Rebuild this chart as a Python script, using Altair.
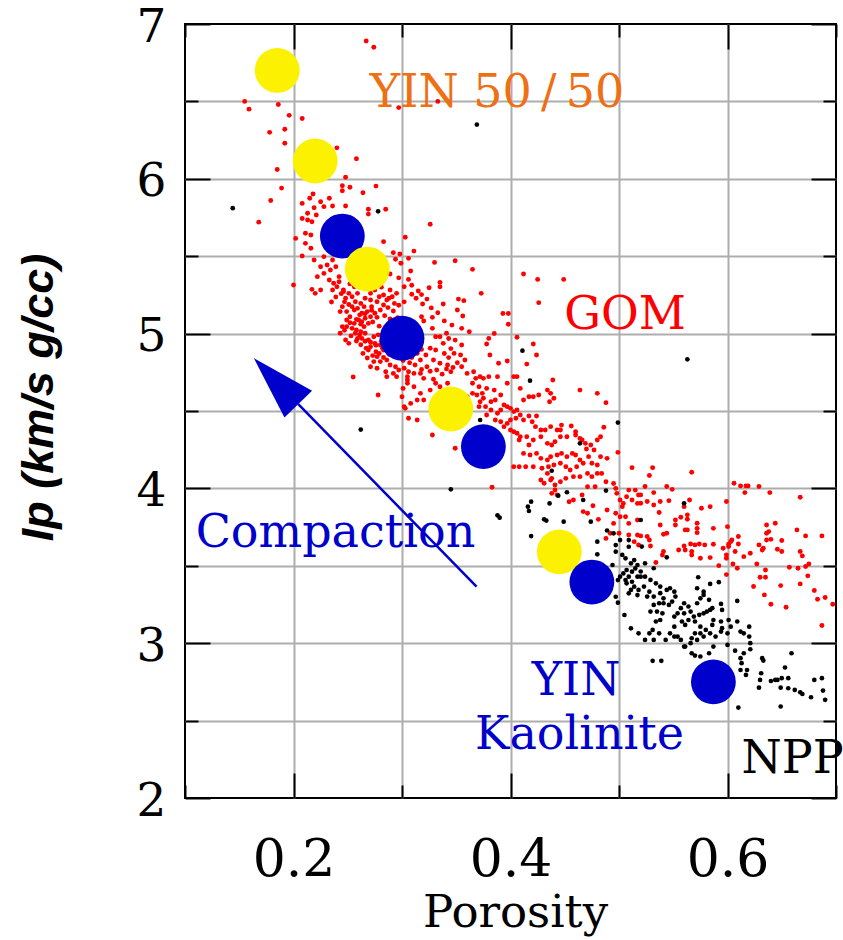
import altair as alt
import pandas as pd

# ---------------- data ----------------
# Gulf of Mexico samples (red): (porosity, Ip)
GOM = [
(0.267,6.89),(0.274,6.85),(0.155,6.50),(0.159,6.45),(0.186,6.48),(0.196,6.41),(0.208,6.39),(0.178,6.30),
(0.192,6.32),(0.192,6.23),(0.185,6.06),(0.189,5.94),(0.179,5.86),(0.168,5.72),(0.297,6.46),(0.333,6.50),
(0.258,6.13),(0.248,6.01),(0.240,6.20),(0.373,5.26),(0.393,5.13),(0.398,5.13),(0.412,5.385),(0.425,5.35),
(0.449,5.35),(0.426,5.20),(0.398,5.06),(0.488,4.554),(0.486,4.395),(0.489,4.194),(0.499,4.233),(0.512,4.134),
(0.484,4.097),(0.278,4.603),(0.255,4.72),
(0.245,5.955),(0.252,5.945),(0.245,5.923),(0.276,5.953),(0.264,5.910),(0.218,5.902),(0.215,5.874),(0.208,5.841),
(0.225,5.852),(0.233,5.874),(0.228,5.820),(0.236,5.824),(0.248,5.824),(0.219,5.813),(0.213,5.777),(0.221,5.766),
(0.208,5.744),(0.213,5.734),(0.217,5.723),(0.269,5.803),(0.269,5.772),(0.285,5.803),(0.326,5.706),(0.211,5.648),
(0.216,5.637),(0.202,5.615),(0.211,5.583),(0.216,5.551),(0.208,5.501),(0.303,5.622),(0.283,5.594),(0.311,5.533),
(0.292,5.523),(0.298,5.514),(0.306,5.486),(0.294,5.480),(0.299,5.454),(0.330,5.460),(0.349,5.471),(0.365,5.415),
(0.308,5.404),(0.306,5.350),(0.302,5.303),(0.315,5.275),(0.335,5.331),(0.335,5.303),(0.309,5.254),(0.323,5.223),
(0.338,5.191),(0.352,5.223),(0.357,5.213),(0.351,5.152),(0.356,5.114),(0.318,5.109),(0.328,5.105),(0.320,5.081),
(0.328,5.034),(0.331,4.980),(0.335,4.980),(0.338,4.937),(0.355,5.034),(0.362,5.012),(0.355,4.926),(0.348,4.872),
(0.354,4.862),(0.358,4.829),(0.355,4.786),(0.342,4.797),(0.335,4.808),(0.329,4.829),(0.322,4.862),(0.326,4.905),
(0.331,4.894),(0.317,4.829),(0.323,4.786),(0.317,4.743),(0.332,4.765),(0.345,4.754),(0.360,4.743),(0.366,4.754),
(0.372,4.722),(0.320,4.711),(0.329,4.705),(0.368,4.711),
(0.231,5.443),(0.234,5.411),(0.239,5.432),(0.228,5.389),(0.222,5.368),(0.233,5.346),(0.237,5.325),(0.242,5.368),
(0.240,5.303),(0.246,5.282),(0.251,5.260),(0.254,5.238),(0.257,5.206),(0.248,5.228),(0.245,5.174),(0.243,5.142),
(0.249,5.142),(0.254,5.174),(0.259,5.163),(0.262,5.195),(0.265,5.174),(0.263,5.131),(0.268,5.142),(0.266,5.099),
(0.271,5.109),(0.275,5.131),(0.280,5.152),(0.283,5.185),(0.277,5.206),(0.286,5.217),(0.291,5.238),(0.295,5.260),
(0.289,5.282),(0.288,5.228),(0.283,5.249),(0.279,5.238),(0.271,5.217),(0.272,5.174),(0.269,5.066),(0.265,5.045),
(0.262,5.012),(0.257,5.002),(0.254,5.034),(0.249,5.045),(0.245,5.045),(0.243,5.002),(0.248,4.959),(0.251,4.937),
(0.259,4.969),(0.263,4.969),(0.266,5.002),(0.269,4.959),(0.274,4.980),(0.271,4.915),(0.269,4.894),(0.276,4.883),
(0.277,4.851),(0.280,4.819),(0.274,4.819),(0.271,4.786),(0.277,4.776),(0.285,4.754),(0.286,4.722),(0.292,4.743),
(0.297,4.765),(0.302,4.776),(0.306,4.754),(0.311,4.743),(0.295,4.722),(0.305,4.722),(0.283,4.894),(0.280,4.926),
(0.275,4.937),(0.286,4.829),(0.289,4.797),(0.294,4.786),(0.256,5.303),(0.259,5.260),(0.266,5.228),(0.271,5.260),
(0.275,5.282),(0.260,5.088),(0.256,5.066),(0.263,5.077),(0.252,5.109),(0.249,5.088),(0.246,5.271),(0.242,5.335),
(0.236,5.282),(0.225,5.282),(0.220,5.260),(0.217,5.286),(0.200,5.314),(0.219,5.475),(0.228,5.497),(0.236,5.475),
(0.225,5.432),
(0.247,5.205),(0.251,5.188),(0.256,5.152),(0.261,5.121),(0.258,5.092),(0.252,5.070),(0.247,5.022),(0.253,4.985),
(0.258,4.952),(0.262,4.928),(0.267,4.905),(0.264,4.872),(0.268,4.842),(0.273,4.858),(0.279,4.871),(0.283,4.846),
(0.288,4.866),(0.292,4.889),(0.287,4.905),(0.281,4.951),(0.278,4.992),(0.284,5.021),(0.279,5.048),(0.273,5.075),
(0.277,5.105),(0.284,5.116),(0.289,5.094),(0.293,5.061),(0.287,5.041),(0.291,5.011),(0.296,4.985),(0.294,4.948),
(0.298,4.922),(0.302,4.903),(0.296,4.853),(0.301,4.826),(0.307,4.812),(0.312,4.797),(0.309,4.846),(0.314,4.872),
(0.318,4.898),(0.313,4.921),(0.308,4.951),(0.303,5.003),(0.299,5.043),(0.296,5.102),(0.292,5.146),(0.297,5.183),
(0.302,5.205),(0.293,5.195),(0.287,5.168),(0.272,5.151),(0.266,5.128),(0.262,5.061),(0.258,5.023),(0.261,4.991),
(0.266,4.951),(0.271,4.944),(0.276,4.924),(0.282,4.905),(0.318,4.768),(0.326,4.757),(0.337,4.738),(0.341,4.772),
(0.347,4.781),(0.351,4.812),(0.343,4.845),(0.339,4.871),(0.345,4.903),(0.349,4.958),(0.343,4.968),(0.341,5.002),
(0.346,5.055),(0.339,5.082),(0.333,5.135),(0.327,5.166),(0.319,5.191),(0.313,5.228),(0.318,5.252),(0.325,5.296),
(0.244,5.258),(0.239,5.236),(0.235,5.204),(0.252,5.321),(0.262,5.306),(0.281,5.300),(0.309,5.312),(0.297,5.360),
(0.289,5.385),(0.282,5.355),
(0.342,4.679),(0.335,4.657),(0.305,4.700),(0.311,4.657),(0.317,4.614),(0.326,4.635),(0.320,4.571),(0.314,4.571),
(0.308,4.549),(0.303,4.517),(0.305,4.679),(0.301,4.646),(0.331,4.679),
(0.380,4.969),(0.385,5.001),(0.378,4.933),(0.381,4.862),(0.389,4.808),(0.397,4.823),(0.406,4.976),(0.421,4.933),
(0.424,4.862),(0.415,4.803),(0.406,4.722),(0.397,4.679),(0.403,4.722),(0.388,4.722),(0.380,4.722),(0.375,4.711),
(0.365,4.679),(0.371,4.657),(0.374,4.614),(0.378,4.646),(0.385,4.635),(0.391,4.603),(0.386,4.571),(0.382,4.560),
(0.375,4.582),(0.372,4.560),(0.369,4.603),(0.365,4.614),(0.360,4.592),(0.371,4.528),(0.377,4.528),(0.382,4.506),
(0.388,4.485),(0.378,4.474),(0.391,4.506),(0.394,4.539),(0.397,4.528),(0.400,4.517),(0.403,4.496),(0.406,4.506),
(0.409,4.474),(0.405,4.453),(0.400,4.442),(0.397,4.420),(0.394,4.399),(0.391,4.431),(0.386,4.442),(0.409,4.646),
(0.412,4.571),(0.417,4.592),(0.421,4.592),(0.426,4.603),(0.434,4.635),(0.437,4.614),(0.439,4.700),(0.440,4.582),
(0.436,4.560),(0.464,4.635),(0.480,4.614),
(0.412,4.442),(0.417,4.468),(0.420,4.431),(0.424,4.468),(0.423,4.399),(0.428,4.377),(0.432,4.377),(0.437,4.399),
(0.443,4.377),(0.447,4.409),(0.446,4.377),(0.456,4.403),(0.446,4.334),(0.452,4.334),(0.441,4.302),(0.438,4.280),
(0.434,4.291),(0.428,4.334),(0.421,4.313),(0.415,4.334),(0.409,4.334),(0.406,4.356),(0.403,4.366),(0.400,4.377),
(0.408,4.313),(0.417,4.280),(0.412,4.226),(0.418,4.216),(0.424,4.226),(0.428,4.194),(0.434,4.183),(0.437,4.205),
(0.443,4.216),(0.447,4.226),(0.452,4.205),(0.457,4.226),(0.460,4.216),(0.464,4.183),(0.467,4.162),(0.461,4.140),
(0.455,4.119),(0.451,4.140),(0.446,4.162),(0.440,4.151),(0.435,4.140),(0.429,4.130),(0.421,4.140),(0.414,4.140),
(0.408,4.140),(0.403,4.140),(0.434,4.097),(0.438,4.065),(0.441,4.022),(0.446,4.043),(0.451,4.065),(0.458,4.076),
(0.464,4.076),(0.471,4.097),(0.475,4.076),(0.480,4.097),(0.480,4.151),(0.475,4.162),(0.472,4.205),(0.477,4.248),
(0.474,4.280),(0.469,4.291),(0.464,4.323),(0.460,4.345),(0.460,4.366),(0.466,4.313),(0.470,4.255),(0.480,4.313),
(0.483,4.334),(0.483,4.205),(0.478,4.011),(0.471,4.011),(0.466,3.957),(0.458,3.925),(0.454,3.914),(0.443,3.957),
(0.441,3.990),(0.438,3.968),(0.437,4.054),(0.431,4.033),(0.428,4.054),(0.476,3.888),(0.467,3.850),(0.471,3.839),
(0.383,4.007),(0.349,4.259),(0.328,4.345),(0.306,4.453),(0.314,4.442),(0.300,4.592),(0.302,4.528),
(0.489,3.860),(0.488,4.043),(0.495,4.032),(0.497,4.000),(0.498,3.968),(0.501,3.925),(0.503,3.882),(0.497,3.839),
(0.501,3.817),(0.504,3.903),(0.507,3.946),(0.509,3.989),(0.512,3.925),(0.515,3.989),(0.518,3.957),(0.517,3.903),
(0.517,3.796),(0.509,3.774),(0.506,3.817),(0.500,3.710),(0.492,3.710),(0.488,3.677),(0.509,3.699),(0.514,3.656),
(0.517,3.699),(0.518,3.634),(0.495,3.774),(0.481,3.800),
(0.531,4.134),(0.528,4.083),(0.567,4.104),(0.524,4.012),(0.544,4.012),(0.549,3.994),(0.532,3.973),(0.520,3.958),
(0.520,3.904),(0.526,3.915),(0.532,3.893),(0.538,3.915),(0.546,3.921),(0.560,3.882),(0.565,3.925),(0.576,3.872),
(0.584,3.882),(0.599,3.915),(0.606,4.033),(0.612,4.016),(0.617,4.016),(0.619,4.016),(0.629,4.012),(0.616,3.973),
(0.639,3.973),(0.667,3.943),(0.537,3.844),(0.552,3.796),(0.552,3.764),(0.557,3.814),(0.563,3.829),(0.563,3.801),
(0.572,3.775),(0.572,3.742),(0.563,3.732),(0.561,3.732),(0.572,3.714),(0.587,3.742),(0.600,3.753),(0.538,3.764),
(0.544,3.710),(0.541,3.704),(0.520,3.693),(0.526,3.689),(0.528,3.667),(0.529,3.628),(0.560,3.628),(0.561,3.602),
(0.555,3.602),(0.566,3.641),(0.570,3.635),(0.574,3.641),(0.579,3.635),(0.567,3.592),(0.567,3.570),(0.575,3.549),
(0.584,3.553),(0.587,3.639),(0.596,3.613),(0.599,3.570),(0.599,3.549),(0.601,3.624),(0.603,3.656),(0.601,3.639),
(0.604,3.667),(0.610,3.689),(0.610,3.641),(0.607,3.592),(0.615,3.559),(0.621,3.581),(0.629,3.635),(0.632,3.602),
(0.633,3.613),(0.636,3.667),(0.638,3.721),(0.636,3.710),(0.640,3.671),(0.644,3.775),(0.636,3.764),(0.650,3.663),
(0.646,3.607),(0.650,3.592),(0.664,3.732),(0.672,3.693),(0.687,3.693),(0.667,3.592),(0.669,3.564),(0.672,3.495),
(0.675,3.512),(0.657,3.491),(0.665,3.484),(0.627,3.512),(0.635,3.473),(0.630,3.426),(0.635,3.426),(0.649,3.372),
(0.667,3.383),(0.674,3.435),(0.624,3.366),(0.634,3.312),(0.640,3.252),(0.654,3.232),(0.680,3.340),(0.683,3.284),
(0.690,3.295),(0.697,3.252),(0.687,3.114),(0.592,3.501),(0.605,3.512),(0.609,3.484),(0.599,3.443),(0.541,3.592),
(0.540,3.570),(0.534,3.521),
]

# Normally pressured shale samples (black): (porosity, Ip)
NPP = [
(0.369,6.35),(0.144,5.81),(0.278,5.79),(0.262,4.38),
(0.411,4.890),(0.418,4.696),(0.464,4.291),(0.438,4.114),(0.345,3.994),(0.419,3.914),(0.416,3.882),(0.417,3.854),
(0.388,3.826),(0.390,3.811),(0.431,3.800),(0.433,3.792),(0.449,3.785),(0.444,3.953),(0.452,3.975),(0.436,3.903),
(0.467,3.925),(0.474,3.785),(0.372,4.442),(0.563,4.834),(0.499,4.425),(0.488,3.986),
(0.419,3.692),(0.489,3.728),(0.495,3.710),(0.501,3.666),(0.480,3.656),(0.497,3.634),(0.497,3.591),(0.509,3.666),
(0.509,3.623),(0.480,3.574),(0.494,3.505),(0.499,3.408),(0.497,3.300),(0.499,3.262),(0.505,3.182),(0.511,3.096),
(0.518,3.064),(0.503,3.570),(0.506,3.548),(0.511,3.516),(0.514,3.537),(0.517,3.505),(0.515,3.483),(0.512,3.462),
(0.507,3.473),(0.504,3.451),(0.509,3.430),(0.506,3.408),(0.501,3.430),(0.507,3.387),(0.512,3.397),(0.517,3.430),
(0.514,3.365),(0.511,3.344),(0.509,3.322),(0.517,3.311),(0.518,3.344),
(0.560,3.904),(0.544,3.555),(0.520,3.796),(0.521,3.624),(0.524,3.516),(0.532,3.484),(0.520,3.463),(0.520,3.430),
(0.524,3.430),(0.529,3.409),(0.534,3.387),(0.538,3.366),(0.523,3.366),(0.528,3.333),(0.526,3.301),(0.532,3.301),
(0.538,3.323),(0.541,3.290),(0.544,3.344),(0.547,3.355),(0.551,3.333),(0.552,3.301),(0.549,3.269),(0.546,3.247),
(0.541,3.258),(0.537,3.258),(0.532,3.247),(0.529,3.204),(0.535,3.204),(0.540,3.193),(0.538,3.150),(0.534,3.140),
(0.531,3.086),(0.528,3.064),(0.524,3.021),(0.532,3.021),(0.537,3.064),(0.543,3.021),(0.547,3.064),(0.551,3.107),
(0.554,3.043),(0.557,3.021),(0.560,2.978),(0.566,3.000),(0.567,3.032),(0.570,3.064),(0.575,3.064),(0.578,3.043),
(0.580,3.086),(0.584,3.064),(0.586,3.118),(0.589,3.043),(0.594,3.075),(0.595,3.097),(0.600,3.064),(0.603,3.107),
(0.601,3.150),(0.594,3.140),(0.587,3.150),(0.581,3.204),(0.584,3.215),(0.578,3.193),(0.574,3.183),(0.569,3.172),
(0.564,3.150),(0.561,3.118),(0.558,3.140),(0.560,3.193),(0.554,3.193),(0.551,3.172),(0.557,3.226),(0.560,3.258),
(0.564,3.237),(0.566,3.204),(0.570,3.140),(0.575,3.107),(0.572,3.258),(0.575,3.290),(0.578,3.312),(0.583,3.280),
(0.586,3.226),(0.594,3.254),(0.595,3.215),(0.584,3.383),(0.573,3.426),(0.572,3.355),(0.578,3.333),(0.592,3.394),
(0.609,3.273),(0.609,3.140),(0.612,3.075),(0.615,3.064),(0.620,3.107),(0.620,3.043),(0.621,3.000),(0.621,2.961),
(0.615,2.935),(0.607,2.952),(0.612,2.903),(0.613,2.871),(0.612,2.827),(0.618,2.827),(0.617,2.795),(0.610,2.584),
(0.632,2.903),(0.633,2.888),(0.631,2.806),(0.630,2.763),(0.629,2.713),(0.640,2.756),(0.644,2.763),(0.646,2.763),
(0.650,2.774),(0.653,2.843),(0.656,2.774),(0.649,2.713),(0.656,2.709),(0.662,2.698),(0.667,2.683),(0.669,2.672),
(0.677,2.651),(0.680,2.763),(0.687,2.774),(0.688,2.694),(0.690,2.634),(0.649,2.591),(0.659,2.935),(0.600,2.989),
(0.587,2.978),(0.583,2.935),(0.570,2.920),(0.575,2.914),(0.531,2.886),(0.539,2.886),(0.572,3.021),(0.551,3.043),
(0.561,2.978),(0.567,2.935),
]

# YIN 50/50 (yellow) and YIN Kaolinite (blue) measurements
YIN5050_PHI = [0.185, 0.220, 0.268, 0.345, 0.445]
YIN5050_IP = [6.70, 6.115, 5.417, 4.513, 3.59]
YINKAO_PHI = [0.245, 0.300, 0.375, 0.475, 0.587]
YINKAO_IP = [5.63, 4.97, 4.27, 3.395, 2.75]

# annotations
LABEL_TEXT = ["YIN 50\u2009/\u200950", "GOM", "Compaction", "YIN", "Kaolinite", "NPP"]
LABEL_PHI = [0.3876, 0.5055, 0.2387, 0.4604, 0.4636, 0.6600]
LABEL_IP = [6.464, 5.030, 3.621, 2.665, 2.317, 2.161]
LABEL_COLOR = ["#EF6F15", "#FF0000", "#0000CC", "#0000CC", "#0000CC", "#000000"]

ARROW_TAIL = (0.3687, 3.365)
ARROW_BASE = (0.2044, 4.545)
ARROW_HEAD_MID = (0.1839, 4.693)

X_MAJOR = [0.2, 0.4, 0.6]
X_MINOR = [0.1, 0.3, 0.5, 0.7]
X_GRID = [0.2, 0.3, 0.4, 0.5, 0.6]
Y_MAJOR = [2, 3, 4, 5, 6, 7]
Y_MINOR = [2.5, 3.5, 4.5, 5.5, 6.5]
Y_GRID = [2.5, 3, 3.5, 4, 4.5, 5, 5.5, 6, 6.5]

# ---------------- chart ----------------
W, H = 651, 774
BLUE = "#0000CC"
YELLOW = "#FCF200"

xs = alt.Scale(domain=[0.1, 0.7], nice=False, zero=False)
ys = alt.Scale(domain=[2, 7], nice=False, zero=False)

def tick_axis(orient, offset, values, size):
    return alt.Axis(orient=orient, offset=offset, values=values, ticks=True, tickSize=size,
                    tickWidth=2, tickColor="black", labels=False, domain=False, grid=False, title=None)

x_label_axis = alt.Axis(orient="bottom", values=X_MAJOR, format=".1f", ticks=False, tickSize=0,
                        domain=False, grid=False, labelFont="DejaVu Serif", labelFontSize=52,
                        labelColor="black", labelPadding=77, labelBaseline="alphabetic",
                        labelOverlap=False, labelFlush=False, title="Porosity",
                        titleFont="DejaVu Serif", titleFontSize=45, titleFontWeight="normal",
                        titleColor="black", titleX=330, titleY=128, titleBaseline="alphabetic",
                        titleAlign="center")
y_label_axis = alt.Axis(orient="left", values=Y_MAJOR, format="d", ticks=False, tickSize=0,
                        domain=False, grid=False, labelFont="DejaVu Serif", labelFontSize=47,
                        labelColor="black", labelPadding=19, labelOffset=3, labelOverlap=False,
                        labelFlush=False,
                        title="Ip (km/s g/cc)", titleFont="Liberation Sans", titleFontSize=45,
                        titleFontWeight="bold", titleFontStyle="italic", titleColor="black",
                        titleAngle=270, titleX=-133, titleY=373, titleBaseline="alphabetic",
                        titleAlign="center")
x_grid_axis = alt.Axis(orient="bottom", values=X_GRID, grid=True, gridColor="#ADADAD", gridWidth=2,
                       ticks=False, labels=False, domain=False, title=None)
y_grid_axis = alt.Axis(orient="left", values=Y_GRID, grid=True, gridColor="#ADADAD", gridWidth=2,
                       ticks=False, labels=False, domain=False, title=None)

gom_df = pd.DataFrame(GOM, columns=["phi", "ip"])
npp_df = pd.DataFrame(NPP, columns=["phi", "ip"])

order_seq = [("Y", 0), ("Y", 1), ("B", 0), ("Y", 2), ("Y", 3), ("B", 1), ("B", 2), ("Y", 4), ("B", 3), ("B", 4)]
big_rows = []
for k, (s, i) in enumerate(order_seq):
    if s == "Y":
        big_rows.append({"phi": YIN5050_PHI[i], "ip": YIN5050_IP[i], "c": YELLOW, "o": k})
    else:
        big_rows.append({"phi": YINKAO_PHI[i], "ip": YINKAO_IP[i], "c": BLUE, "o": k})
big_df = pd.DataFrame(big_rows)

text_df = pd.DataFrame({"phi": LABEL_PHI, "ip": LABEL_IP, "t": LABEL_TEXT, "c": LABEL_COLOR})
line_df = pd.DataFrame({"phi": [ARROW_TAIL[0]], "ip": [ARROW_TAIL[1]],
                        "phi2": [ARROW_BASE[0]], "ip2": [ARROW_BASE[1]]})
head_df = pd.DataFrame({"phi": [ARROW_HEAD_MID[0]], "ip": [ARROW_HEAD_MID[1]]})

gom = alt.Chart(gom_df).mark_circle(size=24, color="#FF0000", opacity=1).encode(
    x=alt.X("phi:Q", scale=xs, axis=x_label_axis),
    y=alt.Y("ip:Q", scale=ys, axis=y_label_axis),
)
npp = alt.Chart(npp_df).mark_circle(size=22, color="#000000", opacity=1).encode(
    x=alt.X("phi:Q", scale=xs, axis=tick_axis("top", -H, X_MAJOR, 25)),
    y=alt.Y("ip:Q", scale=ys, axis=tick_axis("right", -W, Y_MAJOR, 25)),
)
big = alt.Chart(big_df).mark_circle(size=2010, opacity=1).encode(
    x=alt.X("phi:Q", scale=xs, axis=tick_axis("top", -H, X_MINOR, 13)),
    y=alt.Y("ip:Q", scale=ys, axis=tick_axis("right", -W, Y_MINOR, 13)),
    color=alt.Color("c:N", scale=None),
    order=alt.Order("o:Q"),
)
arrow_line = alt.Chart(line_df).mark_rule(color=BLUE, strokeWidth=2.5).encode(
    x=alt.X("phi:Q", scale=xs, axis=tick_axis("bottom", -H, X_MINOR, 13)),
    y=alt.Y("ip:Q", scale=ys, axis=tick_axis("left", -W, Y_MINOR, 13)),
    x2="phi2:Q",
    y2="ip2:Q",
)
arrow_head = alt.Chart(head_df).mark_point(shape="M0,-1L0.6,1L-0.6,1Z", filled=True, size=4096,
                                           angle=316, color=BLUE, opacity=1, strokeWidth=0).encode(
    x=alt.X("phi:Q", scale=xs, axis=x_grid_axis),
    y=alt.Y("ip:Q", scale=ys, axis=y_grid_axis),
)
texts = alt.Chart(text_df).mark_text(font="DejaVu Serif", fontSize=46, baseline="alphabetic",
                                     align="center").encode(
    x=alt.X("phi:Q", scale=xs, axis=tick_axis("bottom", -H, X_MAJOR, 25)),
    y=alt.Y("ip:Q", scale=ys, axis=tick_axis("left", -W, Y_MAJOR, 25)),
    text="t:N",
    color=alt.Color("c:N", scale=None),
)

chart = alt.layer(gom, npp, big, arrow_line, arrow_head, texts).resolve_axis(
    x="independent", y="independent"
).properties(
    width=W, height=H,
    padding={"left": 185, "top": 24, "right": 7, "bottom": 142},
    autosize=alt.AutoSizeParams(type="none"),
).configure(background="white").configure_view(stroke="black", strokeWidth=2)

chart.save("out.html", embed_options={"renderer": "svg", "actions": False})
